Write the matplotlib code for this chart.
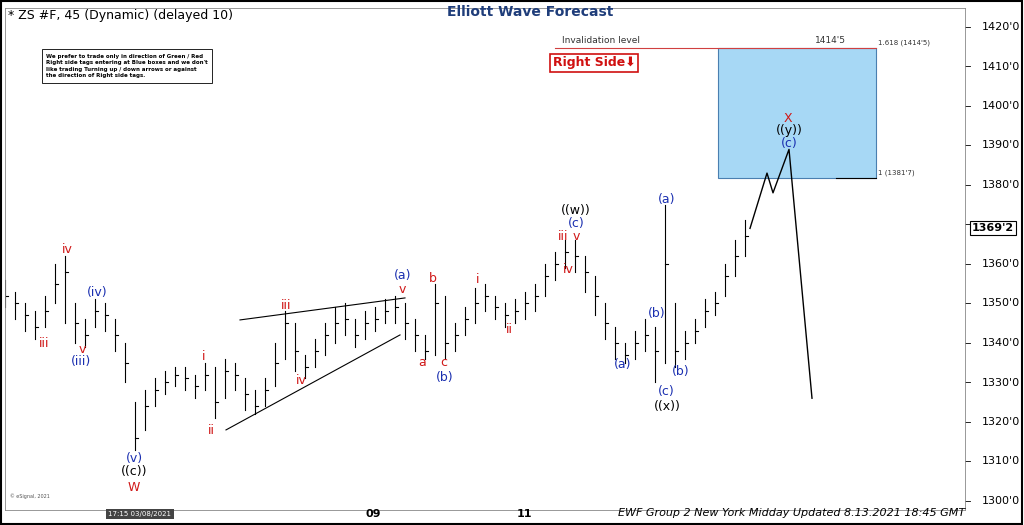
import matplotlib
matplotlib.use("Agg")
import matplotlib.pyplot as plt
from matplotlib.patches import Rectangle

# ---- data ----
closes = [1352,1350,1347,1344,1348,1355,1358,1345,1342,1348,1347,1342,1335,1316,1324,1328,1330,1332,1331,1329,
          1332,1325,1333,1332,1327,1324,1328,1335,1345,1338,1334,1338,1342,1345,1346,1342,1345,1346,1348,1349,
          1345,1342,1338,1350,1340,1342,1346,1350,1352,1349,1347,1348,1350,1352,1357,1360,1363,1362,1358,1352,
          1345,1340,1337,1340,1342,1338,1360,1338,1340,1343,1348,1350,1357,1362,1367]
highs  = [1356,1353,1350,1348,1352,1360,1362,1350,1346,1351,1350,1346,1340,1325,1328,1331,1333,1334,1334,1332,
          1335,1334,1336,1335,1331,1328,1331,1340,1348,1345,1337,1341,1345,1349,1350,1346,1348,1349,1351,1352,
          1350,1346,1342,1355,1352,1345,1349,1354,1355,1352,1350,1351,1353,1355,1360,1363,1366,1366,1362,1357,
          1350,1344,1340,1343,1346,1344,1375,1350,1343,1346,1351,1353,1360,1366,1371]
lows   = [1349,1346,1343,1341,1344,1350,1345,1340,1339,1344,1343,1338,1330,1313,1318,1324,1327,1329,1328,1326,
          1328,1321,1326,1328,1323,1322,1324,1329,1336,1333,1331,1334,1337,1340,1342,1339,1341,1343,1345,1345,
          1341,1338,1336,1337,1336,1338,1342,1345,1348,1346,1344,1345,1346,1348,1352,1356,1359,1358,1353,1347,
          1341,1336,1335,1336,1338,1330,1335,1334,1336,1340,1344,1347,1352,1357,1362]
proj_x = [750, 767, 773, 789, 812]
proj_y = [1369, 1383, 1378, 1389, 1326]
yticks = [1300,1310,1320,1330,1340,1350,1360,1370,1380,1390,1400,1410,1420]
box_top, box_bot = 1414.6, 1381.7

W, H = 1024, 525
fig = plt.figure(figsize=(10.24, 5.25), dpi=100)
ax = fig.add_axes([5/W, 1-510/H, 960/W, 502/H])
ymin, ymax = 1297.7, 1424.8
ax.set_xlim(0, 960); ax.set_ylim(ymin, ymax)
def py(ypix):  # pixel y -> price
    return 1420 - (ypix - 27) * (120/474)
def px(xpix):
    return xpix - 5

for i, (c, h, l) in enumerate(zip(closes, highs, lows)):
    x = px(5 + 10*i)
    ax.plot([x, x], [l, h], color='black', lw=0.8)
    ax.plot([x, x+3], [c, c], color='black', lw=0.8)
ax.plot([px(v) for v in proj_x], proj_y, color='black', lw=1)

# triangle lines
ax.plot([px(240), px(405)], [py(320), py(298)], color='black', lw=0.8)
ax.plot([px(226), px(400)], [py(430), py(335)], color='black', lw=0.8)

# blue box
ax.add_patch(Rectangle((px(718), box_bot), 158, box_top-box_bot, facecolor='#a7d8f5', edgecolor='#4a7fb0', lw=0.8))
ax.plot([px(555), px(876)], [box_top, box_top], color='#d04040', lw=0.8)
ax.plot([px(836), px(876)], [box_bot, box_bot], color='black', lw=0.8)
ax.text(px(562), py(43), "Invalidation level", fontsize=6.5, color='#333')
ax.text(px(815), py(43), "1414'5", fontsize=6.5, color='#333')
ax.text(px(878), py(45), "1.618 (1414'5)", fontsize=5, color='#333')
ax.text(px(878), py(175), "1 (1381'7)", fontsize=5, color='#333')
ax.text(px(594), py(63), "Right Side\u2b07", fontsize=9, color='#d01010', fontweight='bold', ha='center', va='center',
        family=['DejaVu Sans'], bbox=dict(facecolor='white', edgecolor='#d01010', lw=1.2, pad=2))

ax.text(px(46), py(66), "We prefer to trade only in direction of Green / Red\nRight side tags entering at Blue boxes and we don't\n"
        "like trading Turning up / down arrows or against\nthe direction of Right side tags.",
        fontsize=4, fontweight='bold', va='center', linespacing=1.4,
        bbox=dict(facecolor='white', edgecolor='black', lw=0.6, pad=3))

R, B, K = '#d01818', '#1a2fb0', 'black'
labels = [(67,250,'iv',R),(44,344,'iii',R),(82,350,'v',R),(81,362,'(iii)',B),(97,293,'(iv)',B),
          (134,459,'(v)',B),(134,472,'((c))',K),(134,488,'W',R),(204,357,'i',R),(211,431,'ii',R),
          (286,306,'iii',R),(301,381,'iv',R),(403,276,'(a)',B),(402,290,'v',R),(433,279,'b',R),
          (422,363,'a',R),(444,363,'c',R),(445,378,'(b)',B),(478,280,'i',R),(509,330,'ii',R),
          (576,211,'((w))',K),(576,224,'(c)',B),(563,237,'iii',R),(576,237,'v',R),(568,270,'iv',R),
          (623,365,'(a)',B),(657,314,'(b)',B),(667,200,'(a)',B),(681,372,'(b)',B),(666,392,'(c)',B),
          (667,407,'((x))',K),(788,119,'X',R),(789,131,'((y))',K),(789,144,'(c)',B)]
for x, y, t, col in labels:
    ax.text(px(x), py(y), t, color=col, fontsize=9, ha='center', va='center')

ax.set_xticks([]); ax.set_yticks([])
for s in ax.spines.values():
    s.set_color('#888'); s.set_linewidth(0.6)

# right price axis
for t in yticks:
    ax.plot([960, 965], [t, t], color='black', lw=0.6, clip_on=False)
    if t == 1370:
        continue  # hidden behind current-price tag
    fig.text(982/W, 1-(27+(1420-t)*474/120)/H, f"{t}'0", fontsize=8, va='center', ha='left')
fig.text(972/W, 1-228/H, "1369'2", fontsize=8, color='black', va='center', fontweight='bold',
         bbox=dict(facecolor='white', edgecolor='black', lw=0.8, pad=1.5))

# bottom axis
fig.text(373/W, 1-514/H, "09", fontsize=8, fontweight='bold', ha='center', va='center')
fig.text(524/W, 1-514/H, "11", fontsize=8, fontweight='bold', ha='center', va='center')
fig.text(140/W, 1-514/H, "17:15 03/08/2021", fontsize=5, color='white', ha='center', va='center',
         bbox=dict(facecolor='#444', edgecolor='none', pad=1.5))
fig.text(965/W, 1-513/H, "EWF Group 2 New York Midday Updated 8.13.2021 18:45 GMT", fontsize=8,
         style='italic', ha='right', va='center')
fig.text(8/W, 1-15/H, "* ZS #F, 45 (Dynamic) (delayed 10)", fontsize=9, va='center')
fig.text(530/W, 1-12/H, "Elliott Wave Forecast", fontsize=10, fontweight='bold', color='#1f3d7a',
         ha='center', va='center')
fig.text(10/W, 1-498/H, "\u00a9 eSignal, 2021", fontsize=3.5, color='#555')
fig.add_artist(Rectangle((0.001, 0.002), 0.997, 0.996, transform=fig.transFigure, fill=False, edgecolor='black', lw=1.5))

fig.savefig("out.png", dpi=100)
